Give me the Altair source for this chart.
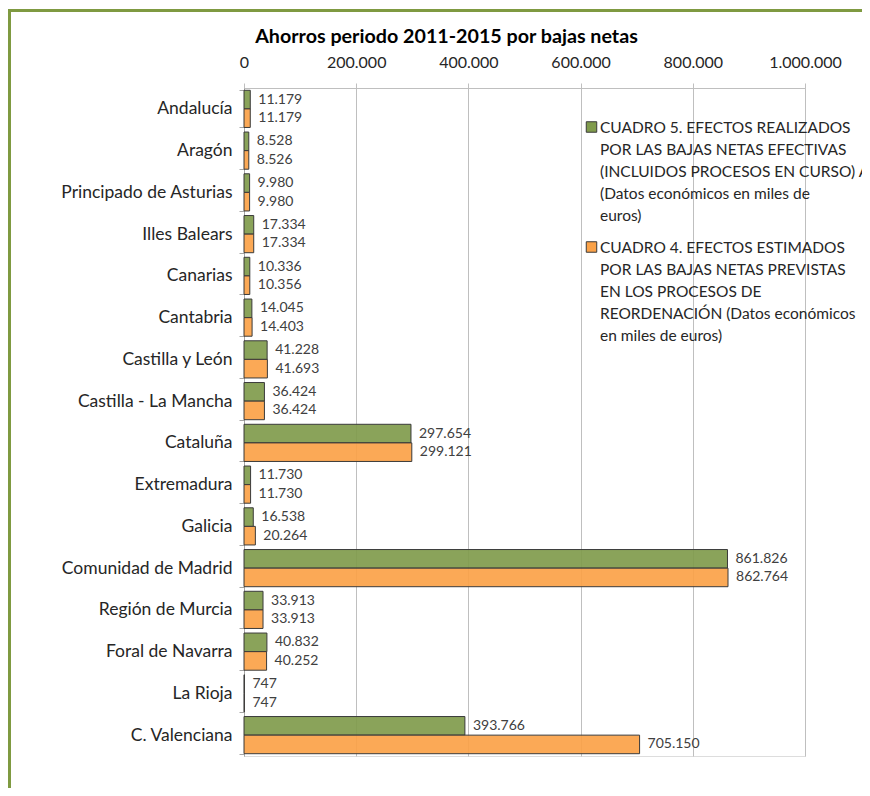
import altair as alt
import pandas as pd

regions = ["Andalucía", "Aragón", "Principado de Asturias", "Illes Balears", "Canarias",
           "Cantabria", "Castilla y León", "Castilla - La Mancha", "Cataluña", "Extremadura",
           "Galicia", "Comunidad de Madrid", "Región de Murcia", "Foral de Navarra",
           "La Rioja", "C. Valenciana"]
cuadro5 = [11179, 8528, 9980, 17334, 10336, 14045, 41228, 36424, 297654, 11730,
           16538, 861826, 33913, 40832, 747, 393766]
cuadro4 = [11179, 8526, 9980, 17334, 10356, 14403, 41693, 36424, 299121, 11730,
           20264, 862764, 33913, 40252, 747, 705150]
series = ["Cuadro 5", "Cuadro 4"]
legend_labels = [
    "CUADRO 5. EFECTOS REALIZADOS\nPOR LAS BAJAS NETAS EFECTIVAS\n(INCLUIDOS PROCESOS EN CURSO) A\n(Datos económicos en miles de\neuros)",
    "CUADRO 4. EFECTOS ESTIMADOS\nPOR LAS BAJAS NETAS PREVISTAS\nEN LOS PROCESOS DE\nREORDENACIÓN (Datos económicos\nen miles de euros)",
]
x_ticks = [0, 200000, 400000, 600000, 800000, 1000000]
colors = ["#809B4C", "#FBA248"]
title = "Ahorros periodo 2011-2015 por bajas netas"

FONT = "Lato"
rows = []
for r, a, b in zip(regions, cuadro5, cuadro4):
    rows.append({"region": r, "series": series[0], "value": a})
    rows.append({"region": r, "series": series[1], "value": b})
df = pd.DataFrame(rows)

y_enc = alt.Y("region:N", sort=regions,
              scale=alt.Scale(paddingInner=0.11, paddingOuter=0.055),
              axis=alt.Axis(title=None, tickBand="extent", labelFontSize=17.5, labelFont=FONT,
                            labelFontWeight="normal", labelColor="#262626", labelPadding=7,
                            tickSize=5, tickColor="#A6A6A6", domainColor="#A6A6A6", grid=False))
x_enc = alt.X("value:Q", scale=alt.Scale(domain=[0, 1000000]),
              axis=alt.Axis(orient="top", values=x_ticks, format=",d", title=None,
                            labelFontSize=16, labelFont=FONT, labelColor="#262626",
                            labelFlush=False, labelPadding=13, tickSize=5, tickColor="#BFBFBF",
                            domainColor="#BFBFBF", gridColor="#BFBFBF"))
yoff = alt.YOffset("series:N", sort=series, scale=alt.Scale(paddingInner=0, paddingOuter=0))
color = alt.Color("series:N", sort=series, scale=alt.Scale(domain=series, range=colors), legend=None)

base = alt.Chart(df)
bars = base.mark_bar(stroke="#3A3A3A", strokeWidth=1, fillOpacity=0.92).encode(
    y=y_enc, x=x_enc, yOffset=yoff, color=color)
labels = base.mark_text(align="left", baseline="middle", dx=8, fontSize=14, font=FONT,
                        color="#404040").encode(
    y=alt.Y("region:N", sort=regions), x="value:Q", yOffset=yoff,
    text=alt.Text("value:Q", format=",d"))

one = pd.DataFrame({"k": [0]})
frame_top = alt.Chart(one).mark_rule(color="#7F9A41", strokeWidth=3).encode(
    x=alt.value(-236), x2=alt.value(640), y=alt.value(-77.5))
frame_left = alt.Chart(one).mark_rule(color="#7F9A41", strokeWidth=3).encode(
    x=alt.value(-234.5), y=alt.value(-79), y2=alt.value(720))

leg_layers = []
for i, (lab, col) in enumerate(zip(legend_labels, colors)):
    yc = 39 + i * 120
    sq = alt.Chart(one).mark_square(size=110, fill=col, stroke="#3A3A3A", strokeWidth=1,
                                    opacity=1).encode(x=alt.value(347.5), y=alt.value(yc))
    tx = alt.Chart(pd.DataFrame({"t": [lab]})).mark_text(
        align="left", baseline="alphabetic", fontSize=15.5, font=FONT, color="#262626",
        lineBreak="\n", lineHeight=22).encode(
        x=alt.value(356), y=alt.value(yc + 5.5), text="t:N")
    leg_layers += [sq, tx]

chart = alt.layer(bars, labels, frame_top, frame_left, *leg_layers).properties(
    width=561, height=668,
    title=alt.TitleParams(title, fontSize=19.7, fontWeight="bold", font=FONT, color="#000000",
                          anchor="middle", dx=-78, offset=-39),
    autosize=alt.AutoSizeParams(type="none"),
    padding={"left": 236, "top": 80, "right": 57, "bottom": 32},
).configure_view(strokeWidth=0).configure(
    locale={"number": {"decimal": ",", "thousands": ".", "grouping": [3], "currency": ["", " €"]}}
)

chart.save("out.html", embed_options={"renderer": "svg", "actions": False})
